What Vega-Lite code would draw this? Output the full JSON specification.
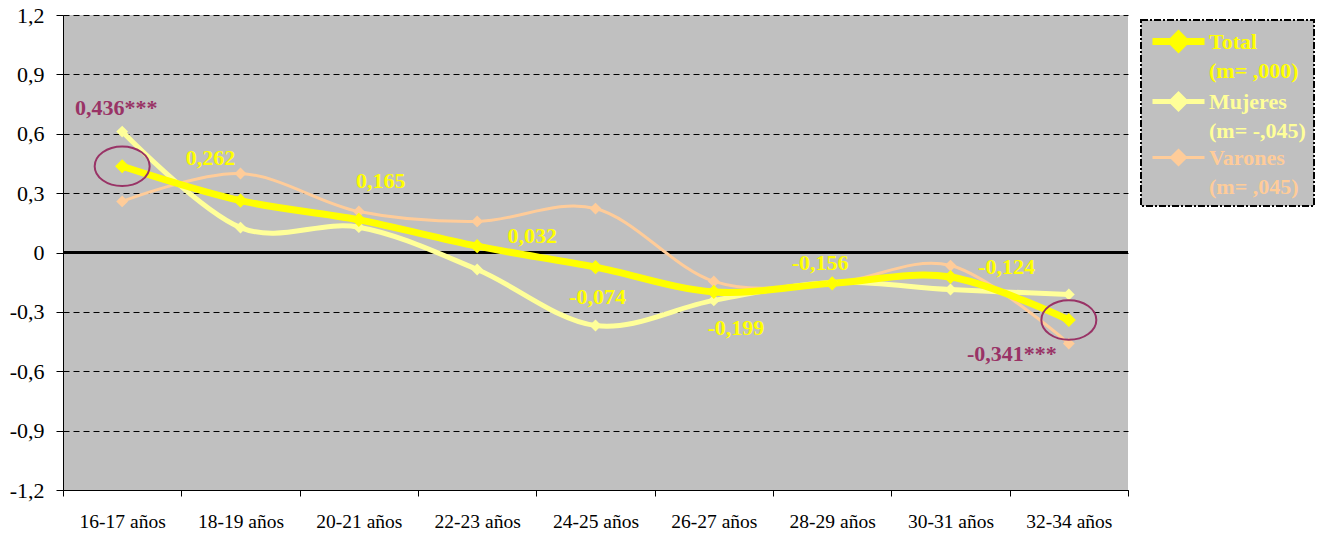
{
  "$schema": "https://vega.github.io/schema/vega-lite/v6.json",
  "width": 1065,
  "height": 475,
  "autosize": "none",
  "padding": {"left": 63, "top": 15, "right": 208, "bottom": 48},
  "background": "white",
  "config": {
    "view": {"fill": "#C0C0C0", "stroke": null},
    "font": "Liberation Serif",
    "style": {"guide-label": {"lineHeight": 29}}
  },
  "data": {
    "values": [
      {"edad": "16-17 años", "serie": "Varones", "valor": 0.258},
      {"edad": "18-19 años", "serie": "Varones", "valor": 0.399},
      {"edad": "20-21 años", "serie": "Varones", "valor": 0.207},
      {"edad": "22-23 años", "serie": "Varones", "valor": 0.157},
      {"edad": "24-25 años", "serie": "Varones", "valor": 0.222},
      {"edad": "26-27 años", "serie": "Varones", "valor": -0.146},
      {"edad": "28-29 años", "serie": "Varones", "valor": -0.157},
      {"edad": "30-31 años", "serie": "Varones", "valor": -0.066},
      {"edad": "32-34 años", "serie": "Varones", "valor": -0.46},
      {"edad": "16-17 años", "serie": "Mujeres", "valor": 0.611},
      {"edad": "18-19 años", "serie": "Mujeres", "valor": 0.126},
      {"edad": "20-21 años", "serie": "Mujeres", "valor": 0.128},
      {"edad": "22-23 años", "serie": "Mujeres", "valor": -0.086},
      {"edad": "24-25 años", "serie": "Mujeres", "valor": -0.369},
      {"edad": "26-27 años", "serie": "Mujeres", "valor": -0.242},
      {"edad": "28-29 años", "serie": "Mujeres", "valor": -0.152},
      {"edad": "30-31 años", "serie": "Mujeres", "valor": -0.187},
      {"edad": "32-34 años", "serie": "Mujeres", "valor": -0.212},
      {"edad": "16-17 años", "serie": "Total", "valor": 0.436, "etiqueta": "0,436***"},
      {"edad": "18-19 años", "serie": "Total", "valor": 0.262, "etiqueta": "0,262"},
      {"edad": "20-21 años", "serie": "Total", "valor": 0.165, "etiqueta": "0,165"},
      {"edad": "22-23 años", "serie": "Total", "valor": 0.032, "etiqueta": "0,032"},
      {"edad": "24-25 años", "serie": "Total", "valor": -0.074, "etiqueta": "-0,074"},
      {"edad": "26-27 años", "serie": "Total", "valor": -0.199, "etiqueta": "-0,199"},
      {"edad": "28-29 años", "serie": "Total", "valor": -0.156, "etiqueta": "-0,156"},
      {"edad": "30-31 años", "serie": "Total", "valor": -0.124, "etiqueta": "-0,124"},
      {"edad": "32-34 años", "serie": "Total", "valor": -0.341, "etiqueta": "-0,341***"}
    ]
  },
  "encoding": {
    "x": {
      "field": "edad", "type": "nominal", "sort": null, "title": null,
      "scale": {"paddingInner": 0, "paddingOuter": 0},
      "axis": {
        "labelAngle": 0, "labelFontSize": 19.5, "labelColor": "black", "labelFont": "Liberation Serif",
        "tickBand": "extent", "tickSize": 6, "tickColor": "black", "domainColor": "black",
        "labelPadding": 16, "grid": false
      }
    },
    "y": {
      "field": "valor", "type": "quantitative", "title": null,
      "scale": {"domain": [-1.2, 1.2], "nice": false, "zero": false},
      "axis": {
        "values": [-1.2, -0.9, -0.6, -0.3, 0, 0.3, 0.6, 0.9, 1.2],
        "labelExpr": "datum.value == 0 ? '0' : replace(replace(format(datum.value, '.1f'), '.', ','), '\u2212', '-')",
        "labelFontSize": 22, "labelColor": "black", "labelFont": "Liberation Serif",
        "tickSize": 7, "tickColor": "black", "domainColor": "black", "labelPadding": 12,
        "grid": true, "gridColor": "black", "gridDash": [6, 4], "gridOpacity": 1
      }
    }
  },
  "layer": [
    {
      "mark": {"type": "rule", "color": "black", "strokeWidth": 1.5},
      "encoding": {"y": {"datum": 0}, "x": null}
    },
    {
      "mark": {"type": "line", "interpolate": "cardinal"},
      "encoding": {
        "color": {
          "field": "serie", "type": "nominal",
          "scale": {"domain": ["Total", "Mujeres", "Varones"], "range": ["#FFFF00", "#FFFF99", "#FFCC99"]},
          "legend": {
            "title": null,
            "orient": "none", "legendX": 1078, "legendY": 5,
            "padding": 8,
            "fillColor": "#C0C0C0", "strokeColor": "black",
            "encode": {"legend": {"update": {"strokeDash": {"value": [7, 2, 2, 2]}, "strokeWidth": {"value": 2}}}},
            "symbolType": "M-1,0L4.2,0M1.6,-0.7L2.3,0L1.6,0.7L0.9,0Z",
            "symbolSize": 400,
            "symbolStrokeWidth": {"expr": "datum.value == 'Total' ? 6 : 4"},
            "symbolFillColor": {"expr": "scale('color', datum.value)"},
            "symbolStrokeColor": {"expr": "scale('color', datum.value)"},
            "labelExpr": "datum.value == 'Total' ? ['Total', '(m= ,000)'] : datum.value == 'Mujeres' ? ['Mujeres', '(m= -,045)\u00a0\u00a0'] : ['Varones', '(m= ,045)']",
            "labelFont": "Liberation Serif", "labelFontSize": 22, "labelFontWeight": "bold",
            "labelColor": {"expr": "scale('color', datum.value)"},
            "labelOffset": 33, "rowPadding": 2, "labelLimit": 250
          }
        },
        "strokeWidth": {
          "field": "serie", "type": "nominal",
          "scale": {"domain": ["Total", "Mujeres", "Varones"], "range": [7, 3, 4]},
          "legend": null
        }
      }
    },
    {
      "mark": {"type": "point", "shape": "diamond", "filled": true, "opacity": 1},
      "encoding": {
        "color": {"field": "serie", "type": "nominal"},
        "size": {"condition": {"test": "datum.serie == 'Total'", "value": 200}, "value": 140}
      }
    },
    {
      "transform": [{"filter": "indexof(datum.etiqueta || '', '*') >= 0"}],
      "mark": {"type": "point", "shape": "M-1,0A1,0.72,0,1,0,1,0A1,0.72,0,1,0,-1,0Z", "filled": false, "stroke": "#993366", "strokeWidth": 2, "size": 3025, "opacity": 1}
    },
    {
      "transform": [{"filter": "datum.etiqueta"}],
      "mark": {
        "type": "text", "font": "Liberation Serif", "fontSize": 22, "fontWeight": "bold",
        "align": "center", "baseline": "middle",
        "dx": {"expr": "datum.edad == '16-17 años' ? -6 : datum.edad == '18-19 años' ? -30 : datum.edad == '20-21 años' ? 22 : datum.edad == '22-23 años' ? 55 : datum.edad == '24-25 años' ? 2 : datum.edad == '26-27 años' ? 22 : datum.edad == '28-29 años' ? -12 : datum.edad == '30-31 años' ? 56 : -57"},
        "dy": {"expr": "datum.edad == '16-17 años' ? -58 : datum.edad == '18-19 años' ? -43 : datum.edad == '20-21 años' ? -39 : datum.edad == '22-23 años' ? -10 : datum.edad == '24-25 años' ? 30 : datum.edad == '26-27 años' ? 36 : datum.edad == '28-29 años' ? -20 : datum.edad == '30-31 años' ? -10 : 34"}
      },
      "encoding": {
        "text": {"field": "etiqueta"},
        "color": {"condition": {"test": "indexof(datum.etiqueta, '*') >= 0", "value": "#993366"}, "value": "#FFFF00"}
      }
    }
  ]
}
